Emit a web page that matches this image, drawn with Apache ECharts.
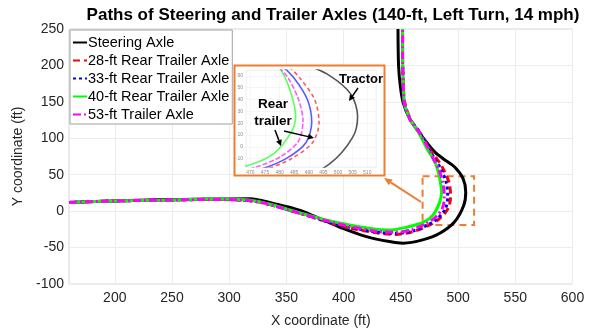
<!DOCTYPE html>
<html><head><meta charset="utf-8">
<script src="https://cdn.jsdelivr.net/npm/echarts@6/dist/echarts.min.js"></script>
<style>html,body{margin:0;padding:0;background:#fff}#c{width:600px;height:333px}</style>
</head><body><div id="c"></div>
<script>
var seriesNames = ['Steering Axle','28-ft Rear Trailer Axle','33-ft Rear Trailer Axle','40-ft Rear Trailer Axle','53-ft Trailer Axle'];
var steering = [[160,12],[200,14],[240,15.5],[280,16.5],[318,17],[340,10],[362,1],[382,-12],[400,-24],[420,-35],[440,-41.8],[452,-44],[469,-39.5],[484,-30.4],[497,-14.6],[505,8],[506.7,26],[504.4,44.6],[497,60.5],[487,72],[479.7,81],[468,103.6],[458,126],[452,149],[449.5,172],[448,200],[447.5,250]];
var rear28 = [[160,12],[200,14],[240,15],[283,16],[320,14],[362,-3],[382,-13],[405,-23],[430,-30],[446,-32],[460.7,-28],[475.3,-19],[484,-10],[491.3,3.7],[493.5,21],[492,40],[487,58],[482.5,69.5],[476,83],[467,107],[458.5,126],[453.5,149],[452,180],[451.5,215],[451.5,250]];
var rear33 = [[160,12],[200,14],[240,15],[283,16],[320,14],[362,-3],[382,-12.5],[405,-22],[430,-29],[446,-30.5],[460,-27.5],[474,-18.5],[482.5,-9.5],[489,3.5],[491,21],[489.5,40],[485,58],[480.5,69.5],[475,84],[466.5,108],[458,126],[453,149],[452,180],[451.5,215],[451.5,250]];
var rear40 = [[160,12],[200,14],[240,15],[283,16.5],[320,14.5],[362,-2.5],[382,-11],[405,-19],[425,-24],[440,-26],[455,-22],[469.4,-15.5],[478.1,-5.5],[484,12.7],[485.5,26],[484,44.6],[481,62.7],[477,75],[473,85],[465.5,108],[458,126],[453,149],[452,180],[451.5,215],[451.5,250]];
var trailer53 = [[160,12],[200,14],[240,15],[283,16],[320,14],[362,-3],[382,-12],[405,-21],[430,-28],[446,-29],[459,-25.5],[472,-17],[480.5,-8],[486.5,5],[488,22],[486.5,40],[483,58],[479,70],[474.5,85],[466,108],[458,126],[453,149],[452,180],[451.5,215],[451.5,250]];
var zoomBoxX = [469, 514];
var zoomBoxY = [-19, 48];

var allData = [steering, rear28, rear33, rear40, trailer53];
var colors = ['#000000','#ff0000','#0000ff','#00ff00','#ff00ff'];
var insetColors = ['#555555','#ff5a5a','#5a5aff','#5aff5a','#ff5aff'];
var dashes = ['solid',[7,4],[3,3],'solid',[8,3,2,3]];
var insetDashes = ['solid',[4,3],'solid','solid',[5,2]];
var FONT = 'Liberation Sans, Arial, sans-serif';

var series = [];
allData.forEach(function(d,i){
  series.push({name: seriesNames[i], type:'line', xAxisIndex:0, yAxisIndex:0, data:d, showSymbol:false, symbol:'none', smooth:0.3,
    lineStyle:{color:colors[i], width:3, type:dashes[i]}, itemStyle:{color:colors[i]}, z:2+i*0.1, animation:false,
    markArea: i===0 ? {silent:true, itemStyle:{color:'rgba(0,0,0,0)', borderColor:'#ED7D31', borderWidth:2, borderType:[7,5]},
      data:[[{coord:[zoomBoxX[0], zoomBoxY[1]]},{coord:[zoomBoxX[1], zoomBoxY[0]]}]]} : undefined});
});
allData.forEach(function(d,i){
  series.push({name: seriesNames[i], type:'line', xAxisIndex:1, yAxisIndex:1, data:d, showSymbol:false, symbol:'none', smooth:0.3,
    lineStyle:{color:insetColors[i], width:1.6, type:insetDashes[i]}, itemStyle:{color:colors[i]}, z:8, animation:false, clip:true});
});

function arrow(x1,y1,x2,y2,color,w,hl,hw){
  var ang = Math.atan2(y2-y1,x2-x1);
  var bx = x2 - hl*Math.cos(ang), by = y2 - hl*Math.sin(ang);
  var px = -Math.sin(ang)*hw/2, py = Math.cos(ang)*hw/2;
  return [
    {type:'line', z:20, shape:{x1:x1,y1:y1,x2:bx,y2:by}, style:{stroke:color, lineWidth:w}},
    {type:'polygon', z:20, shape:{points:[[x2,y2],[bx+px,by+py],[bx-px,by-py]]}, style:{fill:color}}
  ];
}

var graphics = [
  {type:'rect', z:1, shape:{x:234.5,y:65.5,width:150,height:110}, style:{fill:'#fff', stroke:'#ED7D31', lineWidth:2}},
  {type:'text', z:20, x:361, y:73, style:{text:'Tractor', font:'bold 13px '+FONT, fill:'#000', align:'center'}},
  {type:'text', z:20, x:273, y:96, style:{text:'Rear\ntrailer', font:'bold 13.5px '+FONT, fill:'#000', lineHeight:17, align:'center'}}
].concat(arrow(421,202,384,178,'#ED7D31',2,8,7))
 .concat(arrow(358,88,349,101,'#000',1.5,6,6))
 .concat(arrow(275,130,281,146,'#000',1.5,6,6))
 .concat(arrow(284,131,314,138,'#000',1.5,6,6));

var chart = echarts.init(document.getElementById('c'), null, {renderer:'canvas'});
chart.setOption({
  animation:false,
  backgroundColor:'#fff',
  textStyle:{fontFamily:FONT},
  title:{text:'Paths of Steering and Trailer Axles (140-ft, Left Turn, 14 mph)', left:328, top:2, textAlign:'center',
    textStyle:{fontFamily:FONT, fontSize:17, fontWeight:'bold', color:'#000'}},
  legend:{orient:'vertical', left:70, top:30, itemWidth:14, itemHeight:14, itemGap:3, padding:[5,3,2,2],
    borderColor:'#a0a0a0', borderWidth:1, backgroundColor:'#fff', data:seriesNames, z:10,
    itemStyle:{opacity:0},
    textStyle:{fontFamily:FONT, fontSize:14.5, color:'#000', padding:[0,0,0,-4]}},
  grid:[
    {left:69, right:27.5, top:29, bottom:47.3, show:true, borderColor:'#d4d4d4', borderWidth:1, backgroundColor:'transparent'},
    {left:246, top:70, width:130, height:97, show:true, borderColor:'#e6e6e6', borderWidth:0.5, backgroundColor:'#fff', z:3}
  ],
  xAxis:[
    {type:'value', gridIndex:0, min:160, max:600, splitNumber:9, name:'X coordinate (ft)', nameLocation:'middle', nameGap:30,
      nameTextStyle:{fontFamily:FONT, fontSize:14, color:'#262626'},
      axisLine:{show:false}, axisTick:{show:false},
      axisLabel:{fontFamily:FONT, fontSize:14, color:'#262626', margin:7, formatter:function(v){return v%50===0?String(v):'';}},
      splitLine:{show:true, lineStyle:{color:'#ececec', width:1}}},
    {type:'value', gridIndex:1, min:468.5, max:513, splitNumber:9, z:4,
      axisLine:{show:false}, axisTick:{show:false},
      axisLabel:{fontFamily:FONT, fontSize:5, color:'#8a8a8a', margin:3, formatter:function(v){return v%5===0?String(v):'';}},
      splitLine:{show:true, lineStyle:{color:'#ededed', width:0.5}}}
  ],
  yAxis:[
    {type:'value', gridIndex:0, min:-100, max:250, interval:50, name:'Y coordinate (ft)', nameLocation:'middle', nameGap:44,
      nameTextStyle:{fontFamily:FONT, fontSize:14, color:'#262626'},
      axisLine:{show:false}, axisTick:{show:false},
      axisLabel:{fontFamily:FONT, fontSize:14, color:'#262626', margin:5},
      splitLine:{show:true, lineStyle:{color:'#ececec', width:1}}},
    {type:'value', gridIndex:1, min:-17, max:65, splitNumber:8, z:4,
      axisLine:{show:false}, axisTick:{show:false},
      axisLabel:{fontFamily:FONT, fontSize:5, color:'#8a8a8a', margin:3, formatter:function(v){return v%10===0?String(v):'';}},
      splitLine:{show:true, lineStyle:{color:'#ededed', width:0.5}}}
  ],
  series:series,
  graphic:graphics
});
</script></body></html>
